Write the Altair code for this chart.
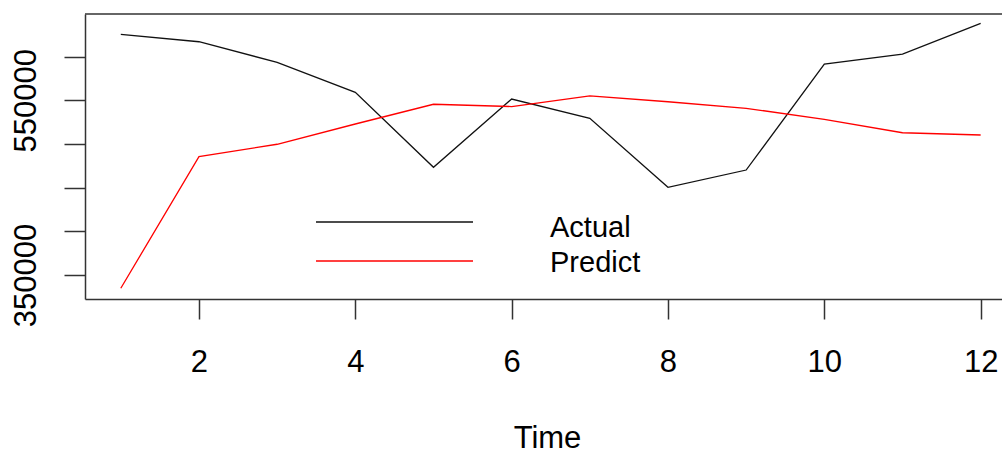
import altair as alt
import pandas as pd

# Monthly series: observed values and model predictions
time = [1, 2, 3, 4, 5, 6, 7, 8, 9, 10, 11, 12]
actual = [625600, 617100, 593500, 559200, 473300, 551500,
          529400, 450400, 470200, 591600, 603000, 638200]
predict = [334800, 485500, 499700, 522900, 545500, 542900,
           555000, 548400, 540900, 528300, 512900, 510300]

series_names = ["Actual", "Predict"]
series_colors = ["#111111", "#ff0000"]

x_ticks = [2, 4, 6, 8, 10, 12]
y_ticks = [350000, 400000, 450000, 500000, 550000, 600000]
y_labelled = [350000, 550000]

FONT = "Liberation Sans"
W, H = 917, 285

df = pd.DataFrame({"Time": time, "Actual": actual, "Predict": predict})
long = df.melt(id_vars="Time", var_name="series", value_name="value")

x_scale = alt.Scale(domain=[0.542, 12.273], nice=False, zero=False)
y_scale = alt.Scale(domain=[322520, 648850], nice=False, zero=False)
color_scale = alt.Scale(domain=series_names, range=series_colors)

label_test = " || ".join(f"datum.value == {v}" for v in y_labelled)

lines = alt.Chart(long).mark_line(strokeWidth=1.3, clip=True).encode(
    x=alt.X(
        "Time:Q",
        scale=x_scale,
        axis=alt.Axis(
            values=x_ticks, format="d", grid=False, tickSize=20,
            labelPadding=52, labelBaseline="alphabetic", labelFontSize=31,
            labelFont=FONT, labelColor="black", labelOverlap=False,
            domainColor="#333333", domainWidth=1.5,
            tickColor="#333333", tickWidth=1.5,
            title="Time", titleFont=FONT, titleFontSize=31,
            titleFontWeight="normal", titleColor="black",
            titleBaseline="alphabetic", titleAlign="center",
            titleX=462, titleY=148.5,
        ),
    ),
    y=alt.Y(
        "value:Q",
        scale=y_scale,
        axis=alt.Axis(
            values=y_ticks, format="d", grid=False, tickSize=21,
            labelExpr=f"({label_test}) ? datum.label : ''",
            labelAngle=270, labelAlign="center", labelBaseline="alphabetic",
            labelPadding=29, labelFontSize=31, labelFont=FONT,
            labelColor="black", labelOverlap=False, labelLimit=0,
            domainColor="#333333", domainWidth=1.5,
            tickColor="#333333", tickWidth=1.5, title=None,
        ),
    ),
    color=alt.Color("series:N", scale=color_scale, legend=None),
    detail="series:N",
)

# top edge of the plot frame
frame_top = alt.Chart(pd.DataFrame({"k": [0]})).mark_rule(
    color="#333333", strokeWidth=1.5
).encode(x=alt.value(0), x2=alt.value(W), y=alt.value(0))

# hand-placed legend inside the plot region
legend_layers = []
legend_line_y = [208, 247]
legend_text_y = [222.7, 257.7]
for name, col, ly, ty in zip(series_names, series_colors, legend_line_y, legend_text_y):
    row = pd.DataFrame({"series": [name]})
    legend_layers.append(
        alt.Chart(row).mark_rule(color=col, strokeWidth=1.3).encode(
            x=alt.value(231), x2=alt.value(388), y=alt.value(ly)
        )
    )
    legend_layers.append(
        alt.Chart(row).mark_text(
            font=FONT, fontSize=29, align="left", baseline="alphabetic",
            color="black"
        ).encode(x=alt.value(465), y=alt.value(ty), text="series:N")
    )

chart = alt.layer(lines, frame_top, *legend_layers).properties(
    width=W, height=H,
    autosize=alt.AutoSizeParams(type="none"),
    padding={"left": 85, "top": 14, "right": 0, "bottom": 153},
    background="white",
).configure_view(strokeWidth=0)

chart.save("out.html", embed_options={"renderer": "svg", "actions": False})
